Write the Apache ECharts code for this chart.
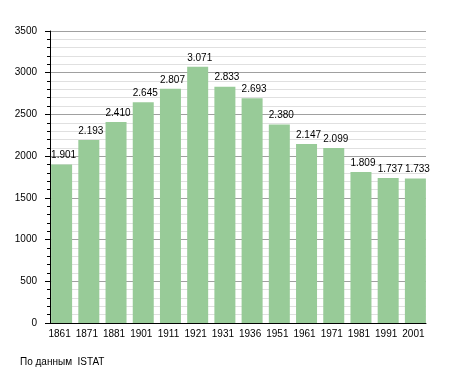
<!DOCTYPE html>
<html><head><meta charset="utf-8">
<script src="https://cdn.jsdelivr.net/npm/echarts@6/dist/echarts.min.js"></script>
<style>html,body{margin:0;padding:0;background:#fff}#c{width:455px;height:373px}</style>
</head><body><div id="c"></div>
<script>
var years = ['1861','1871','1881','1901','1911','1921','1931','1936','1951','1961','1971','1981','1991','2001'];
var population = [1901,2193,2410,2645,2807,3071,2833,2693,2380,2147,2099,1809,1737,1733];
var yTicks = [0,500,1000,1500,2000,2500,3000,3500];
var sourceText = 'По данным  ISTAT';

var chart = echarts.init(document.getElementById('c'), null, {renderer:'canvas'});
var font = 'Liberation Sans, Arial, sans-serif';
var yMin = yTicks[0], yMax = yTicks[yTicks.length-1];
chart.setOption({
  animation:false,
  title:{text:sourceText,left:20,top:357,padding:0,textStyle:{fontFamily:font,fontSize:10,fontWeight:'normal',color:'#000'}},
  grid:[
    {left:50,right:29,top:31,bottom:50,containLabel:false},
    {left:48,right:26,top:31,bottom:50,containLabel:false}
  ],
  xAxis:[
    {type:'value',gridIndex:0,min:0,max:1,
      axisLine:{show:true,onZero:false,lineStyle:{color:'#000',width:1}},
      axisTick:{show:false},axisLabel:{show:false},splitLine:{show:false}},
    {type:'category',gridIndex:1,data:years,
      axisLine:{show:false},
      axisTick:{show:false},
      axisLabel:{fontFamily:font,fontSize:10,color:'#000',margin:6,interval:0,padding:[0,4,0,0]}}
  ],
  yAxis:[
    {type:'value',gridIndex:0,min:yMin,max:yMax,interval:500,
      axisLine:{show:true,onZero:false,lineStyle:{color:'#000',width:1}},
      axisTick:{show:true,length:5,lineStyle:{color:'#000'}},
      minorTick:{show:true,splitNumber:5,length:3,lineStyle:{color:'#000'}},
      splitLine:{show:true,lineStyle:{color:'#a0a0a0',width:1}},
      minorSplitLine:{show:true,lineStyle:{color:'#e0e0e0',width:1}},
      axisLabel:{fontFamily:font,fontSize:10,color:'#000',margin:13,
        formatter:function(v){return String(v);}}},
    {type:'value',gridIndex:1,min:yMin,max:yMax,interval:500,show:false,
      splitLine:{show:false}}
  ],
  series:[{type:'bar',xAxisIndex:1,yAxisIndex:1,data:population,barWidth:21,
    itemStyle:{color:'#98cb98'},
    label:{show:true,position:'top',distance:4,offset:[2,0],fontFamily:font,fontSize:10,color:'#000',
      formatter:function(p){return p.value.toString().replace(/\B(?=(\d{3})+(?!\d))/g,'.');}}}]
});
</script></body></html>
